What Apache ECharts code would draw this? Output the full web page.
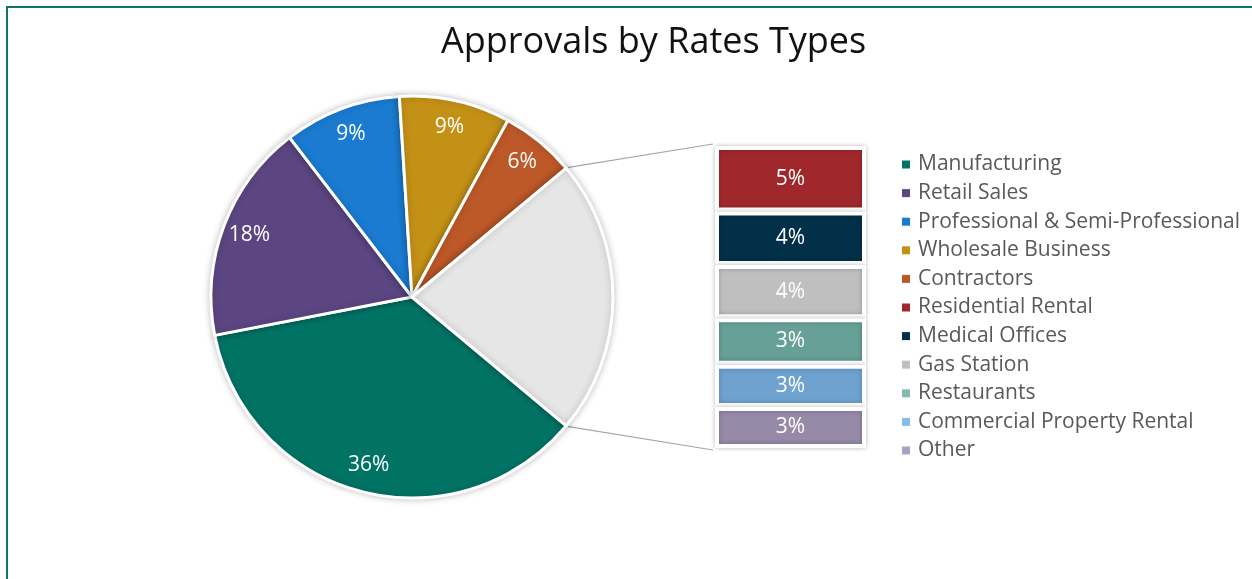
<!DOCTYPE html>
<html>
<head>
<meta charset="utf-8">
<script src="https://cdn.jsdelivr.net/npm/echarts@6/dist/echarts.min.js"></script>
<style>
  html, body { margin: 0; padding: 0; background: #ffffff; }
  #chart { position: absolute; left: 0; top: 0; width: 1252px; height: 579px; }
  #frame { position: absolute; left: 6px; top: 6px; right: 0; bottom: 0;
           border-top: 2px solid #0b7766; border-left: 2px solid #0b7766; pointer-events: none; }
</style>
</head>
<body>
<div id="chart"></div>
<div id="frame"></div>
<script>
// Main pie: the five largest rate types (percent of approvals)
const pieCategories = ['Manufacturing', 'Retail Sales', 'Professional & Semi-Professional', 'Wholesale Business', 'Contractors'];
const pieValues = [35.8, 17.6, 9.4, 8.9, 6.0];
const pieColors = ['#017365', '#5c4682', '#1a7bd0', '#c49117', '#bd5828'];

// Smaller rate types, grouped into one slice and broken out in the stacked bar
const otherCategories = ['Residential Rental', 'Medical Offices', 'Gas Station', 'Restaurants', 'Commercial Property Rental', 'Other'];
const otherValues = [4.8, 3.9, 3.9, 3.4, 3.1, 3.0];
const otherBarColors = ['#a0282c', '#023048', '#bfbfbf', '#66a097', '#6ea2cf', '#968aa8'];
const otherLegendColors = ['#a0282c', '#023048', '#bfbfbf', '#80bcb2', '#88bde8', '#aba0c4'];
const groupedColor = '#e6e6e6';

const FONT = 'Open Sans';
const pieCenter = [412, 297];
const pieRadius = 201;
const barGrid = { left: 715, top: 146, width: 151, height: 302 };

const otherTotal = otherValues.reduce((a, b) => a + b, 0);
const total = pieValues.reduce((a, b) => a + b, 0) + otherTotal;
const groupedHalfAngle = otherTotal / total * 180;   // grouped slice is centred on 3 o'clock

const pct = v => Math.round(v) + '%';

const pieData = pieCategories.map((name, i) => ({
  name, value: pieValues[i], itemStyle: { color: pieColors[i] }
}));
pieData.push({ name: 'Grouped', value: otherTotal, itemStyle: { color: groupedColor } });

const labelRingData = pieData.map(d => ({
  name: d.name, value: d.value,
  label: { show: d.name !== 'Grouped' }
}));

const barSeries = otherCategories.map((name, i) => ({
  name,
  type: 'bar',
  stack: 'grouped',
  barWidth: '100%',
  data: [otherValues[i]],
  itemStyle: {
    color: otherBarColors[i], borderColor: '#ffffff', borderWidth: 4,
    shadowBlur: 5, shadowColor: 'rgba(0,0,0,0.22)'
  },
  label: {
    show: true, position: 'inside', color: '#ffffff',
    fontFamily: FONT, fontSize: 21, formatter: p => pct(p.value)
  },
  emphasis: { disabled: true },
  silent: true
}));

const legendData = pieCategories.map((name, i) => ({ name, itemStyle: { color: pieColors[i], borderWidth: 0, shadowBlur: 0 } }))
  .concat(otherCategories.map((name, i) => ({ name, itemStyle: { color: otherLegendColors[i], borderWidth: 0, shadowBlur: 0 } })));

const chart = echarts.init(document.getElementById('chart'), null, { renderer: 'canvas' });

const option = {
  animation: false,
  backgroundColor: '#ffffff',
  title: {
    text: 'Approvals by Rates Types',
    left: 436,
    top: 17,
    textStyle: { fontFamily: FONT, fontSize: 36, fontWeight: 'normal', color: '#111111', lineHeight: 42 }
  },
  legend: {
    orient: 'vertical',
    left: 897,
    top: 149,
    itemWidth: 8,
    itemHeight: 8,
    itemGap: 7.6,
    icon: 'rect',
    selectedMode: false,
    data: legendData,
    textStyle: { fontFamily: FONT, fontSize: 21, color: '#595959', lineHeight: 21, padding: [0, 0, 0, 3] }
  },
  grid: { left: barGrid.left, top: barGrid.top, width: barGrid.width, height: barGrid.height },
  xAxis: { type: 'category', data: [''], show: false },
  yAxis: { type: 'value', min: 0, max: otherTotal, inverse: true, show: false },
  series: [
    {
      name: 'Rate types',
      type: 'pie',
      center: pieCenter,
      radius: pieRadius,
      startAngle: -groupedHalfAngle,
      clockwise: true,
      data: pieData,
      label: { show: false },
      labelLine: { show: false },
      itemStyle: { borderColor: '#ffffff', borderWidth: 3, shadowBlur: 7, shadowColor: 'rgba(0,0,0,0.22)' },
      emphasis: { disabled: true },
      silent: true
    },
    {
      // transparent ring that carries the percentage labels near the outer edge
      name: 'Labels',
      type: 'pie',
      center: pieCenter,
      radius: [pieRadius * 0.7, pieRadius],
      startAngle: -groupedHalfAngle,
      clockwise: true,
      data: labelRingData,
      itemStyle: { color: 'rgba(0,0,0,0)', borderWidth: 0 },
      label: { position: 'inside', color: '#ffffff', fontFamily: FONT, fontSize: 21, formatter: p => pct(p.value) },
      labelLine: { show: false },
      emphasis: { disabled: true },
      silent: true,
      z: 3
    }
  ].concat(barSeries)
};

chart.setOption(option);

// Connector lines from the grouped slice's edges to the ends of the stacked bar
const rad = groupedHalfAngle * Math.PI / 180;
const topY = chart.convertToPixel({ yAxisIndex: 0 }, 0);
const bottomY = chart.convertToPixel({ yAxisIndex: 0 }, otherTotal);
const edgeR = pieRadius + 1;
chart.setOption({
  graphic: [
    {
      type: 'line', silent: true, z: 0,
      shape: { x1: pieCenter[0] + edgeR * Math.cos(rad), y1: pieCenter[1] - edgeR * Math.sin(rad), x2: barGrid.left - 2, y2: topY - 2 },
      style: { stroke: '#a6a6a6', lineWidth: 1.2 }
    },
    {
      type: 'line', silent: true, z: 0,
      shape: { x1: pieCenter[0] + edgeR * Math.cos(rad), y1: pieCenter[1] + edgeR * Math.sin(rad), x2: barGrid.left - 2, y2: bottomY + 2 },
      style: { stroke: '#a6a6a6', lineWidth: 1.2 }
    }
  ]
});
</script>
</body>
</html>
